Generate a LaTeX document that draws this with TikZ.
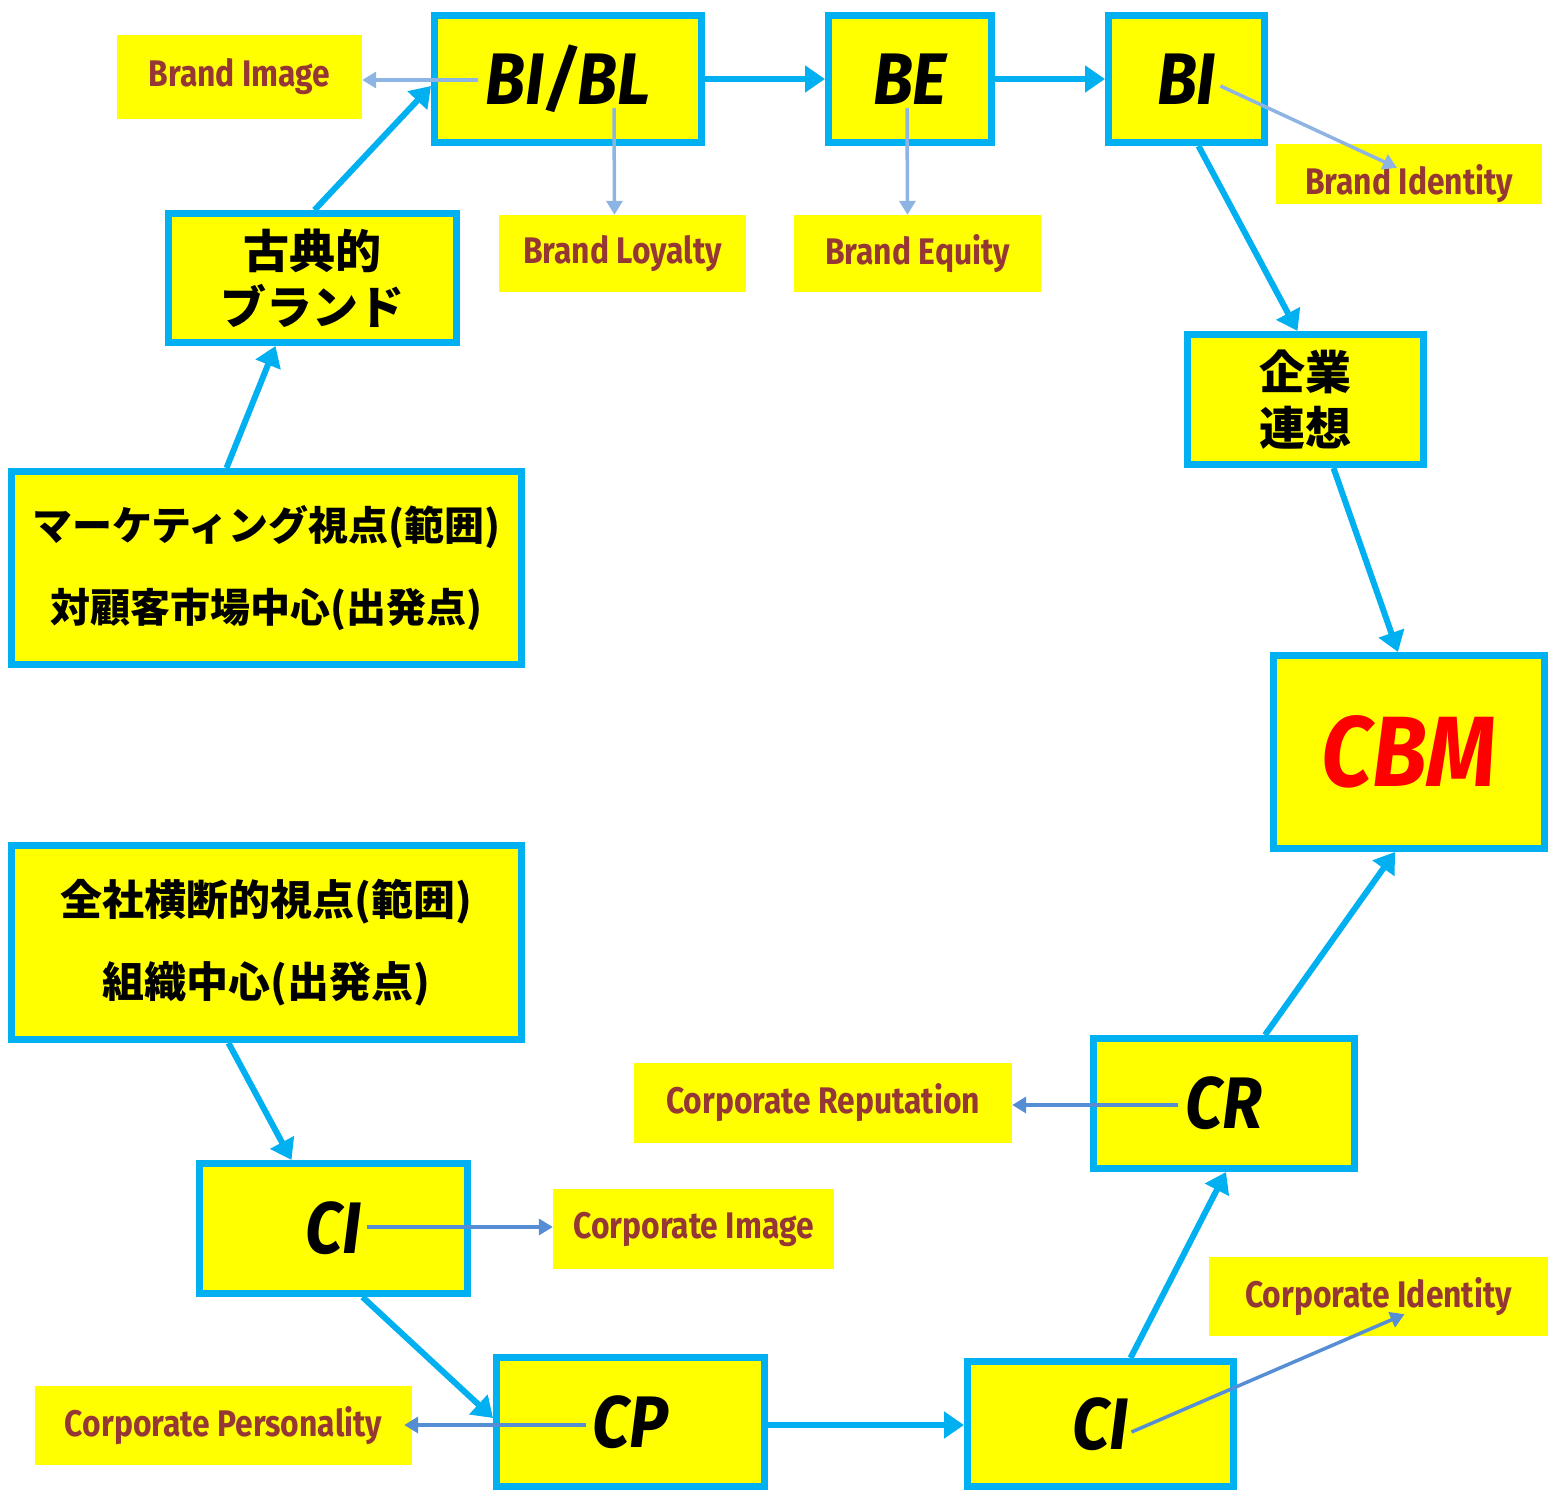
\documentclass[tikz,border=0pt]{standalone}
\usepackage{fontspec}
\usepackage{graphicx}
\setmainfont{Fira Sans}
\newfontfamily\jp{Noto Sans CJK JP}[BoldFont={Noto Sans CJK JP Black}]
\usetikzlibrary{arrows.meta,calc}
\definecolor{bcyan}{HTML}{00B0F0}
\definecolor{byel}{HTML}{FFFF00}
\definecolor{tred}{HTML}{953735}
\definecolor{lblue}{HTML}{8EB4E3}
\definecolor{mblue}{HTML}{558ED5}
\newcommand\labtxt[1]{\scalebox{0.86}[1]{#1}}
\newcommand\bigt[1]{\scalebox{0.9}[1]{#1}}
\tikzset{
  mainbox/.style={draw=bcyan, fill=byel, line width=7pt, inner sep=0pt, align=center},
  labbox/.style={fill=byel, inner sep=0pt, text=tred, font=\bfseries\fontsize{37}{40}\selectfont},
  bigtxt/.style={font=\bfseries\itshape\fontsize{73}{76}\selectfont},
  jptxt/.style={font=\jp\bfseries\fontsize{46}{56}\selectfont},
  jpwide/.style={font=\jp\bfseries\fontsize{40}{82}\selectfont},
  flow/.style={draw=bcyan, line width=6pt, -{Triangle[length=20pt,width=26pt]}},
  thinb/.style={draw=lblue, line width=3.5pt, -{Triangle[length=14pt,width=16pt]}},
  thinc/.style={draw=mblue, line width=3.5pt, -{Triangle[length=14pt,width=16pt]}}
}
\begin{document}
\begin{tikzpicture}[x=1pt,y=-1pt]
\useasboundingbox (0,0) rectangle (1548,1490);
% label boxes
\node[labbox, minimum width=245pt, minimum height=84pt] (lbimg) at (239.5,77) {\labtxt{Brand Image}};
\node[labbox, minimum width=247pt, minimum height=77pt] (lbloy) at (622.5,253.5) {\labtxt{Brand Loyalty}};
\node[labbox, minimum width=247pt, minimum height=77pt] (lbeq) at (917.5,253.5) {\labtxt{Brand Equity}};
\node[labbox, minimum width=266pt, minimum height=60pt, text depth=0pt] (lbid) at (1409,174) {\raisebox{-10pt}{\labtxt{Brand Identity}}};
\node[labbox, minimum width=378pt, minimum height=80pt] (lcrep) at (823,1103) {\labtxt{Corporate Reputation}};
\node[labbox, minimum width=281pt, minimum height=80pt] (lcimg) at (693.5,1229) {\labtxt{Corporate Image}};
\node[labbox, minimum width=339pt, minimum height=79pt] (lcid) at (1378.5,1296.5) {\labtxt{Corporate Identity}};
\node[labbox, minimum width=377pt, minimum height=79pt] (lcper) at (223.5,1425.5) {\labtxt{Corporate Personality}};
% main boxes
\node[mainbox, bigtxt, minimum width=267pt, minimum height=127pt] (bibl) at (568,79) {\bigt{BI/BL}};
\node[mainbox, bigtxt, minimum width=163pt, minimum height=127pt] (be) at (910,79) {\bigt{BE}};
\node[mainbox, bigtxt, minimum width=156pt, minimum height=127pt] (bi) at (1186.5,79) {\bigt{BI}};
\node[mainbox, jptxt, minimum width=288pt, minimum height=129pt] (koten) at (312.5,278) {古典的\\ブランド};
\node[mainbox, jptxt, minimum width=236pt, minimum height=130pt] (kigyo) at (1305.5,399.5) {企業\\連想};
\node[mainbox, jpwide, minimum width=510pt, minimum height=193pt] (mkt) at (266.5,568) {マーケティング視点(範囲)\\対顧客市場中心(出発点)};
\node[mainbox, font=\bfseries\itshape\fontsize{100}{104}\selectfont, text=red, minimum width=271pt, minimum height=193pt] (cbm) at (1409,752) {\bigt{CBM}};
\node[mainbox, jpwide, font=\jp\bfseries\fontsize{42}{82}\selectfont, minimum width=510pt, minimum height=194pt] (zensha) at (266.5,942.5) {全社横断的視点(範囲)\\組織中心(出発点)};
\node[mainbox, bigtxt, minimum width=268pt, minimum height=130pt] (ci1) at (333.5,1228.5) {\bigt{CI}};
\node[mainbox, bigtxt, minimum width=268pt, minimum height=129pt] (cp) at (630.5,1422) {\bigt{CP}};
\node[mainbox, bigtxt, minimum width=266pt, minimum height=125pt] (ci2) at (1100.5,1424) {\bigt{CI}};
\node[mainbox, bigtxt, minimum width=261pt, minimum height=130pt] (cr) at (1224,1103.5) {\bigt{CR}};
% flow arrows
\draw[flow] ([xshift=-40pt]mkt.north) -- ([xshift=-37pt]koten.south);
\draw[flow] ([xshift=2pt]koten.north) -- ([yshift=-7pt]bibl.west);
\draw[flow] (bibl.east) -- (be.west);
\draw[flow] (be.east) -- (bi.west);
\draw[flow] ([xshift=12pt]bi.south) -- ([xshift=-8pt]kigyo.north);
\draw[flow] ([xshift=28pt]kigyo.south) -- ([xshift=-11pt]cbm.north);
\draw[flow] ([xshift=-38pt]zensha.south) -- ([xshift=-42pt]ci1.north);
\draw[flow] ([xshift=29pt]ci1.south) -- ([yshift=4pt]cp.west);
\draw[flow] ([yshift=-3pt]cp.east) -- ([yshift=-3pt]cp.east -| ci2.west);
\draw[flow] ([xshift=30pt]ci2.north) -- ([xshift=2pt]cr.south);
\draw[flow] ([xshift=41pt]cr.north) -- ([xshift=-14pt]cbm.south);
% thin arrows
\coordinate (s1) at ([xshift=-90pt,yshift=-1pt]bibl.center);
\draw[thinb] (s1) -- (s1 -| lbimg.east);
\draw[thinb] ([xshift=46pt,yshift=-29pt]bibl.center) -- ([xshift=-8pt]lbloy.north);
\draw[thinb] ([xshift=-3pt,yshift=-29pt]be.center) -- ([xshift=-10pt]lbeq.north);
\draw[thinb] ([xshift=34pt,yshift=-7pt]bi.center) -- ([xshift=-12pt,yshift=-24pt]lbid.north);
\coordinate (s2) at ([xshift=-46pt,yshift=-1.5pt]cr.center);
\draw[thinc] (s2) -- (s2 -| lcrep.east);
\coordinate (s3) at ([xshift=33pt,yshift=1.5pt]ci1.center);
\draw[thinc] (s3) -- (s3 -| lcimg.west);
\coordinate (s4) at ([xshift=-45pt,yshift=-3pt]cp.center);
\draw[thinc] (s4) -- ([xshift=-8pt]s4 -| lcper.east);
\draw[thinc] ([xshift=31pt,yshift=-8pt]ci2.center) -- ([xshift=26pt,yshift=22pt]lcid.south);
\end{tikzpicture}
\end{document}
